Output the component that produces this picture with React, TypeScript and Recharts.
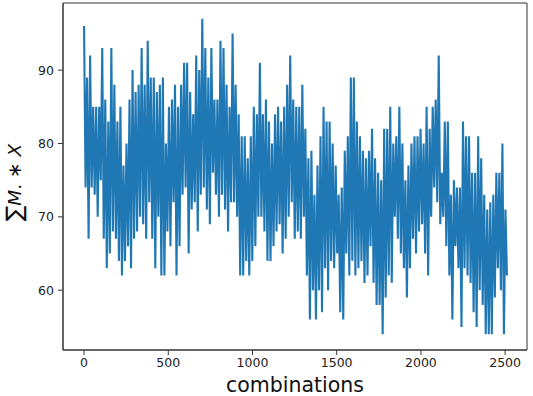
import React from 'react';
import { LineChart, Line, XAxis, YAxis, ReferenceArea } from 'recharts';

// Envelope of the dense series: one peak and one trough per ~18 combinations
const peaks: number[] = [
  96, 89, 92, 85, 85, 85, 93, 86, 83, 93, 88, 83, 85, 77, 80, 86, 90, 87, 88, 93,
  88, 94, 89, 89, 87, 88, 89, 80, 85, 86, 88, 85, 88, 91, 91, 87, 84, 92, 90, 97,
  93, 89, 93, 86, 86, 94, 93, 88, 85, 95, 88, 84, 81, 81, 78, 81, 85, 84, 91, 84,
  86, 83, 80, 84, 85, 83, 85, 88, 92, 86, 85, 85, 88, 82, 78, 79, 73, 77, 81, 85,
  83, 83, 80, 77, 73, 74, 79, 81, 89, 89, 83, 81, 79, 78, 79, 82, 78, 76, 75, 82,
  82, 85, 80, 81, 85, 80, 75, 77, 80, 81, 81, 82, 80, 85, 82, 85, 86, 92, 76, 83,
  83, 73, 75, 74, 74, 83, 81, 81, 76, 76, 81, 78, 73, 71, 72, 73, 76, 76, 80, 71,
];

const troughs: number[] = [
  74, 67, 74, 73, 70, 75, 67, 63, 65, 68, 67, 64, 62, 64, 66, 63, 67, 68, 70, 69,
  67, 72, 67, 63, 70, 62, 62, 68, 66, 72, 62, 66, 73, 74, 65, 71, 72, 68, 73, 74,
  71, 69, 76, 73, 70, 73, 71, 68, 72, 72, 70, 62, 62, 64, 62, 64, 66, 70, 70, 68,
  64, 64, 66, 68, 69, 65, 67, 70, 72, 67, 68, 67, 70, 62, 56, 60, 56, 60, 57, 63,
  60, 64, 63, 65, 57, 56, 65, 62, 64, 62, 63, 64, 61, 62, 66, 61, 58, 58, 54, 59,
  62, 61, 70, 67, 65, 63, 59, 63, 67, 65, 68, 69, 65, 62, 70, 74, 72, 69, 70, 66,
  62, 56, 66, 63, 55, 63, 62, 61, 57, 55, 60, 58, 54, 54, 54, 59, 63, 60, 54, 62,
];

const combinationStep = 18;
const xTicks: number[] = [0, 500, 1000, 1500, 2000, 2500];
const yTicks: number[] = [60, 70, 80, 90];
const xDomain: [number, number] = [-125, 2630];
const yDomain: [number, number] = [51.85, 99.15];

const data: { x: number; y: number }[] = [];
peaks.forEach((p, i) => {
  data.push({ x: i * combinationStep, y: p });
  data.push({ x: i * combinationStep + combinationStep / 2, y: troughs[i] });
});

const FONT = 'DejaVu Sans, sans-serif';
const SPINE = '#333';

const XLabel = (props: any) => {
  const vb = props.viewBox || { x: 63, y: 350, width: 464, height: 46 };
  return (
    <text x={vb.x + vb.width / 2} y={vb.y + 42} textAnchor="middle" fontSize={20.5} fontFamily={FONT} fill="#111">
      combinations
    </text>
  );
};

const YLabel = (props: any) => {
  const vb = props.viewBox || { x: 0, y: 3, width: 63, height: 347 };
  const cx = vb.x + 14;
  const cy = vb.y + vb.height / 2 + 6;
  return (
    <text
      x={cx}
      y={cy}
      transform={`rotate(-90, ${cx}, ${cy})`}
      textAnchor="middle"
      dominantBaseline="central"
      fontSize={18.5}
      fontFamily={FONT}
      fill="#111"
    >
      <tspan fontSize={23}>∑</tspan>
      <tspan fontStyle="italic">M</tspan>
      <tspan>. ∗ </tspan>
      <tspan fontStyle="italic">X</tspan>
    </text>
  );
};

export default function App() {
  return (
    <div style={{ position: 'fixed', left: 0, top: 0, width: 533, height: 396, background: '#fff' }}>
      <LineChart width={533} height={396} data={data} margin={{ top: 3, right: 6, bottom: 0, left: 0 }}>
        <XAxis
          dataKey="x"
          type="number"
          domain={xDomain}
          ticks={xTicks}
          allowDataOverflow
          height={46}
          tickSize={5}
          tickMargin={3}
          stroke={SPINE}
          tick={{ fontSize: 12.5, fontFamily: FONT, fill: '#222' }}
          label={<XLabel />}
        />
        <YAxis
          type="number"
          domain={yDomain}
          ticks={yTicks}
          allowDataOverflow
          width={63}
          tickSize={5}
          tickMargin={4}
          stroke={SPINE}
          tick={{ fontSize: 12.5, fontFamily: FONT, fill: '#222' }}
          label={<YLabel />}
        />
        <Line
          type="linear"
          dataKey="y"
          stroke="#1f77b4"
          strokeWidth={2.1}
          strokeLinejoin="miter"
          dot={false}
          isAnimationActive={false}
        />
        <ReferenceArea
          x1={xDomain[0]}
          x2={xDomain[1]}
          y1={yDomain[0]}
          y2={yDomain[1]}
          fill="none"
          fillOpacity={0}
          stroke={SPINE}
          strokeWidth={1}
          ifOverflow="visible"
        />
      </LineChart>
    </div>
  );
}
